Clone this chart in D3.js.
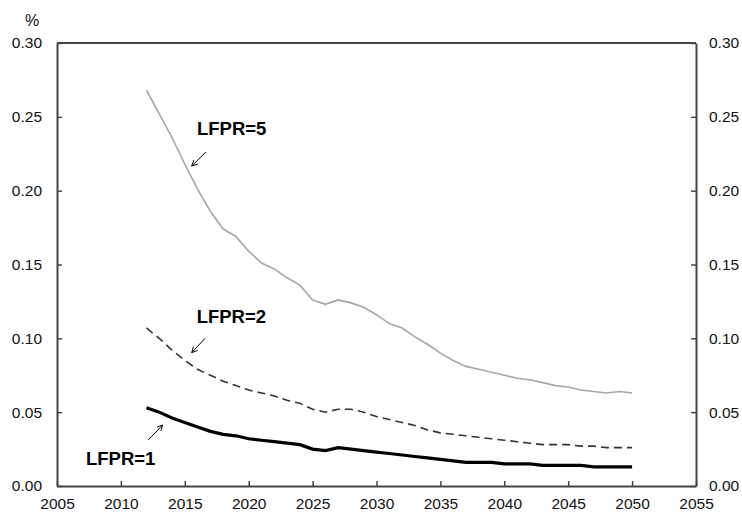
<!DOCTYPE html>
<html>
<head>
<meta charset="utf-8">
<script src="https://cdnjs.cloudflare.com/ajax/libs/d3/7.8.5/d3.min.js"></script>
<style>
  body { margin: 0; background: #fff; }
  text { font-family: Arial, "Liberation Sans", sans-serif; }
</style>
</head>
<body>
<div id="chart"></div>
<script>
(function(){
  // years on the x axis
  const years = [2012, 2013, 2014, 2015, 2016, 2017, 2018, 2019, 2020, 2021,
                 2022, 2023, 2024, 2025, 2026, 2027, 2028, 2029, 2030, 2031,
                 2032, 2033, 2034, 2035, 2036, 2037, 2038, 2039, 2040, 2041,
                 2042, 2043, 2044, 2045, 2046, 2047, 2048, 2049, 2050];

  const lfpr5 = [0.268, 0.252, 0.236, 0.218, 0.201, 0.186, 0.174, 0.169, 0.159, 0.151,
                 0.147, 0.141, 0.136, 0.126, 0.123, 0.126, 0.124, 0.121, 0.116, 0.110,
                 0.107, 0.101, 0.096, 0.090, 0.085, 0.081, 0.079, 0.077, 0.075, 0.073,
                 0.072, 0.070, 0.068, 0.067, 0.065, 0.064, 0.063, 0.064, 0.063];

  const lfpr2 = [0.107, 0.100, 0.092, 0.085, 0.079, 0.075, 0.071, 0.068, 0.065, 0.063,
                 0.061, 0.058, 0.056, 0.052, 0.050, 0.052, 0.052, 0.050, 0.047, 0.045,
                 0.043, 0.041, 0.038, 0.036, 0.035, 0.034, 0.033, 0.032, 0.031, 0.030,
                 0.029, 0.028, 0.028, 0.028, 0.027, 0.027, 0.026, 0.026, 0.026];

  const lfpr1 = [0.053, 0.050, 0.046, 0.043, 0.040, 0.037, 0.035, 0.034, 0.032, 0.031,
                 0.030, 0.029, 0.028, 0.025, 0.024, 0.026, 0.025, 0.024, 0.023, 0.022,
                 0.021, 0.020, 0.019, 0.018, 0.017, 0.016, 0.016, 0.016, 0.015, 0.015,
                 0.015, 0.014, 0.014, 0.014, 0.014, 0.013, 0.013, 0.013, 0.013];

  const xTicks = [2005, 2010, 2015, 2020, 2025, 2030, 2035, 2040, 2045, 2050, 2055];
  const yTicks = [0, 0.05, 0.10, 0.15, 0.20, 0.25, 0.30];

  // labels: text anchor and arrow (from -> to), in data units
  const labelText = ["LFPR=5", "LFPR=2", "LFPR=1"];
  const labelAt = [[2015.95, 0.2377], [2015.93, 0.1106], [2007.27, 0.0142]];
  const arrowFrom = [[2016.66, 0.2262], [2016.58, 0.1000], [2012.14, 0.0312]];
  const arrowTo = [[2015.54, 0.2167], [2015.54, 0.0903], [2013.27, 0.0413]];

  const width = 742, height = 517;
  const margin = { top: 43, right: 46, bottom: 31, left: 57 };
  const innerW = width - margin.left - margin.right;
  const innerH = height - margin.top - margin.bottom;

  const svg = d3.select("#chart").append("svg")
    .attr("width", width)
    .attr("height", height);

  const g = svg.append("g")
    .attr("transform", `translate(${margin.left},${margin.top})`);

  const x = d3.scaleLinear().domain([2005, 2055]).range([0, innerW]);
  const y = d3.scaleLinear().domain([0, 0.30]).range([innerH, 0]);

  const axisColor = "#444";

  // axes, ticks pointing inwards
  const styleAxis = sel => {
    sel.select(".domain").attr("stroke", axisColor).attr("stroke-width", 2);
    sel.selectAll(".tick line").attr("stroke", axisColor).attr("stroke-width", 1.5);
    sel.selectAll(".tick text").attr("fill", "#111").style("font-size", "15.5px");
  };

  g.append("g")
    .attr("transform", `translate(0,${innerH})`)
    .call(d3.axisBottom(x).tickValues(xTicks).tickFormat(d3.format("d"))
      .tickSizeInner(-5).tickSizeOuter(0).tickPadding(12))
    .call(styleAxis);

  g.append("g")
    .call(d3.axisLeft(y).tickValues(yTicks).tickFormat(d3.format(".2f"))
      .tickSizeInner(-5).tickSizeOuter(0).tickPadding(15))
    .call(styleAxis);

  g.append("g")
    .attr("transform", `translate(${innerW},0)`)
    .call(d3.axisRight(y).tickValues(yTicks).tickFormat(d3.format(".2f"))
      .tickSizeInner(-5).tickSizeOuter(0).tickPadding(13))
    .call(styleAxis);

  // top border
  g.append("line")
    .attr("x1", 0).attr("x2", innerW).attr("y1", 0).attr("y2", 0)
    .attr("stroke", axisColor).attr("stroke-width", 2);

  svg.append("text")
    .attr("x", 32).attr("y", 26)
    .attr("text-anchor", "middle")
    .style("font-size", "16px")
    .attr("fill", "#111")
    .text("%");

  const line = d3.line()
    .x((d, i) => x(years[i]))
    .y(d => y(d));

  g.append("path").datum(lfpr5)
    .attr("d", line)
    .attr("fill", "none")
    .attr("stroke", "#a6a6a6")
    .attr("stroke-width", 1.6);

  g.append("path").datum(lfpr2)
    .attr("d", line)
    .attr("fill", "none")
    .attr("stroke", "#333")
    .attr("stroke-width", 1.6)
    .attr("stroke-dasharray", "8,5");

  g.append("path").datum(lfpr1)
    .attr("d", line)
    .attr("fill", "none")
    .attr("stroke", "#000")
    .attr("stroke-width", 3.2);

  // arrow marker
  svg.append("defs").append("marker")
    .attr("id", "head")
    .attr("viewBox", "0 0 10 10")
    .attr("refX", 9).attr("refY", 5)
    .attr("markerWidth", 7).attr("markerHeight", 7)
    .attr("markerUnits", "userSpaceOnUse")
    .attr("orient", "auto")
    .append("path")
    .attr("d", "M1,1 L9,5 L1,9")
    .attr("fill", "none")
    .attr("stroke", "#000")
    .attr("stroke-width", 1.3);

  labelText.forEach((t, i) => {
    g.append("text")
      .attr("x", x(labelAt[i][0]))
      .attr("y", y(labelAt[i][1]))
      .style("font-size", "18.5px")
      .style("font-weight", "bold")
      .attr("fill", "#000")
      .text(t);

    g.append("line")
      .attr("x1", x(arrowFrom[i][0])).attr("y1", y(arrowFrom[i][1]))
      .attr("x2", x(arrowTo[i][0])).attr("y2", y(arrowTo[i][1]))
      .attr("stroke", "#000")
      .attr("stroke-width", 1)
      .attr("marker-end", "url(#head)");
  });
})();
</script>
</body>
</html>
